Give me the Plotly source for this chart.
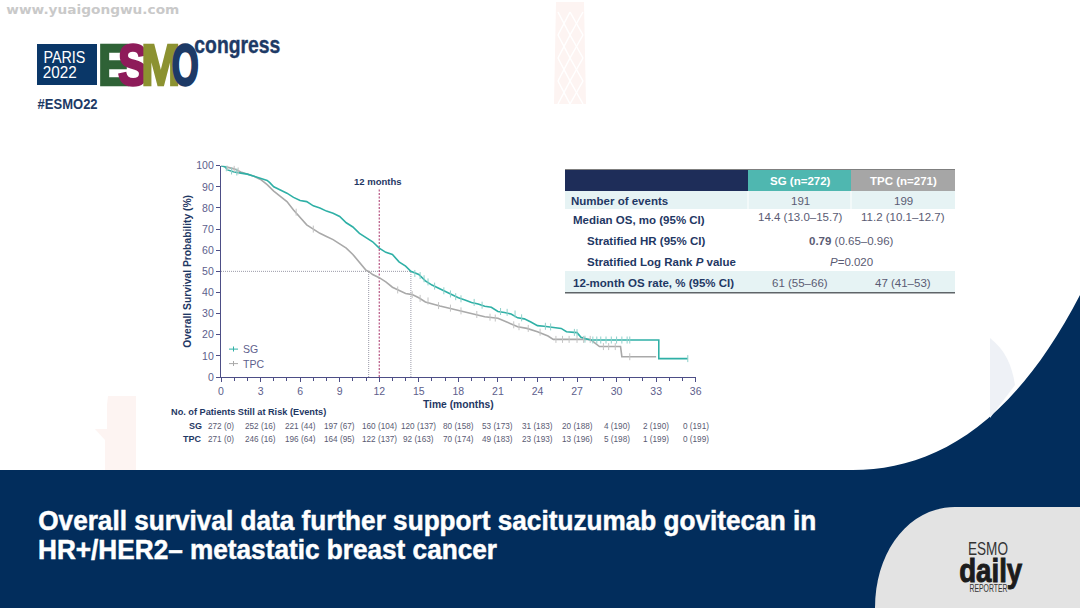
import plotly.graph_objects as go

W, H = 1080, 608

# km curves
sg_t = [0, 0.3, 0.5, 1, 1.5, 2, 2.5, 3, 3.5, 3.7, 4, 4.5, 5, 5.5, 6, 6.5, 7, 7.5, 8, 8.5, 9, 9.5, 10, 10.5, 11, 11.5, 12,
        12.5, 13, 13.5, 14, 14.4, 15, 15.5, 16, 16.5, 17, 17.5, 18, 18.5, 19, 19.5, 20, 20.5, 21, 21.5, 22, 22.5, 23,
        23.5, 24, 24.5, 25, 25.8, 26.2, 27, 27.3, 28, 33.2, 33.2, 35.4]
sg_v = [100, 99.5, 98, 97, 96.5, 96, 95, 94, 93, 92, 90, 88.5, 87, 85, 83.5, 83, 81, 80, 78.5, 77.5, 76, 73, 71, 68, 66, 64, 61,
        59, 58, 54.5, 52.5, 50, 48.5, 45.5, 43.5, 42, 40.5, 39, 37.5, 36.5, 35.3, 34.5, 33.5, 33, 31, 30.5, 29.8, 28, 27.5,
        26, 24.3, 24, 23.5, 23, 21.4, 21, 18.8, 17.5, 17.5, 8.7, 8.7]
tpc_t = [0, 1, 1.5, 2, 2.5, 3, 3.5, 4, 4.5, 5, 5.5, 6, 6.5, 7, 7.5, 8, 8.5, 9, 9.5, 10, 10.5, 11, 11.2, 11.5, 12,
         12.5, 13, 13.5, 14, 14.5, 15, 15.5, 16, 16.6, 17, 18, 19, 20, 21, 21.8, 22.5, 23.2, 24, 24.8, 25.2, 28, 28.7,
         30.3, 30.4, 33]
tpc_v = [100, 98.5, 97, 96, 95, 93.5, 91, 88, 85.5, 83, 79, 75.5, 72, 70, 68, 66.5, 65, 63, 61, 58, 54, 50.5, 50, 48.5, 47,
         45, 42.5, 41, 39.5, 39, 37.5, 35.5, 34.5, 33.6, 33, 31.5, 30, 28.5, 27.8, 25.5, 23.8, 23, 21.4, 19.4, 17.8, 17.8, 14.4,
         14.4, 9.6, 9.6]

# censored patients
sg_cens_t = [0.4, 0.8, 1.2, 14.7, 15.1, 15.4, 15.7, 16.2, 16.9, 17.4, 17.8, 18.2, 19.2, 19.8, 21.2, 21.7, 22.3, 22.8, 24.6, 25, 26.8,
             27, 27.6, 28.2, 28.5, 28.8, 29.2, 29.6, 30, 30.4, 30.8, 31, 35.4]
sg_cens_v = [99, 97.5, 97, 49, 48, 46.5, 45, 43, 40.8, 39.3, 38, 37, 35.3, 34, 31, 30.6, 29.8, 28, 24, 23.7, 21.1,
             21, 17.9, 17.5, 17.5, 17.5, 17.5, 17.5, 17.5, 17.5, 17.5, 17.5, 8.7]
tpc_cens_t = [0.5, 1, 1.3, 5.7, 7, 13.4, 14.5, 15.1, 15.7, 16.5, 17.4, 18.2, 19.4, 20.4, 20.8, 22.2, 22.6, 23.3, 24.2, 25.4, 25.9, 26.4,
              27, 27.5, 28, 29, 29.4, 29.9, 31]
tpc_cens_v = [99.5, 98.5, 97.5, 78, 70, 41.2, 39, 37.2, 36, 33.8, 32.6, 31.3, 29.6, 28.3, 27.9, 24.7, 23.8, 23, 21.2, 17.8, 17.8, 17.8,
              17.8, 17.8, 17.8, 14.4, 14.4, 14.4, 9.6]

median_sg = 14.4
median_tpc = 11.2
landmark = 12

risk_months = [0, 3, 6, 9, 12, 15, 18, 21, 24, 27, 30, 33, 36]
risk_sg = ["272 (0)", "252 (16)", "221 (44)", "197 (67)", "160 (104)", "120 (137)", "80 (158)", "53 (173)", "31 (183)",
           "20 (188)", "4 (190)", "2 (190)", "0 (191)"]
risk_tpc = ["271 (0)", "246 (16)", "196 (64)", "164 (95)", "122 (137)", "92 (163)", "70 (174)", "49 (183)", "23 (193)",
            "13 (196)", "5 (198)", "1 (199)", "0 (199)"]

table_labels = ["Number of events", "Median OS, mo (95% CI)", "Stratified HR (95% CI)", "Stratified Log Rank <i>P</i> value",
                "12-month OS rate, % (95% CI)"]
table_sg = ["191", "14.4 (13.0–15.7)", "", "", "61 (55–66)"]
table_tpc = ["199", "11.2 (10.1–12.7)", "", "", "47 (41–53)"]

NAVY = "#022d5c"
AXIS = "#4d4e86"
INK = "#1f3864"
VAL = "#5a5b73"
TEAL = "#2fb0a6"
GREY = "#a9a9a9"
MAROON = "#a8336a"
SANS = "Liberation Sans"
PINK = "#fdf4f2"


def px(x):
    return x / W


def py(y):
    return 1 - y / H


shapes = []
annotations = []


def rect(x0, y0, x1, y1, color):
    shapes.append(dict(type="rect", xref="paper", yref="paper", x0=px(x0), x1=px(x1), y0=py(y0), y1=py(y1),
                       fillcolor=color, line_width=0, layer="below"))


def blob(cmds, color):
    # cmds like ("M", x, y) or ("C", x1, y1, x2, y2, x, y)
    d = ""
    for c in cmds:
        nums = c[1:]
        pts = [f"{px(nums[i]):.5f},{py(nums[i + 1]):.5f}" for i in range(0, len(nums), 2)]
        d += c[0] + " ".join(pts) + " "
    shapes.append(dict(type="path", xref="paper", yref="paper", path=d + "Z", fillcolor=color, line_width=0, layer="below"))


def stroke(x0, y0, x1, y1, color, width=1.5):
    shapes.append(dict(type="line", xref="paper", yref="paper", x0=px(x0), x1=px(x1), y0=py(y0), y1=py(y1),
                       line=dict(color=color, width=width), layer="below"))


def text(x, y, s, size, color=INK, weight="normal", family=SANS, anchor="center"):
    # annotation boxes carry 2px of padding, take it back on anchored sides
    if anchor == "left":
        x -= 2
    if anchor == "right":
        x += 2
    annotations.append(dict(xref="paper", yref="paper", x=px(x), y=py(y), text=s, showarrow=False, xanchor=anchor,
                            yanchor="middle", font=dict(size=size, color=color, family=family, weight=weight)))


# background
blob([("M", 0, 470), ("L", 853, 470), ("C", 930, 470, 1010, 430, 1080, 295), ("L", 1080, 608), ("L", 0, 608)], NAVY)
blob([("M", 875, 608), ("C", 875, 550, 910, 507, 955, 507), ("L", 1080, 507), ("L", 1080, 608)], "#e3e3e3")

# faint ghost drawings behind the slide
blob([("M", 556, 2), ("L", 584, 2), ("L", 586, 104), ("L", 554, 104)], PINK)
for k in range(4):
    top = 12 + k * 23
    stroke(558, top, 570, top + 23, "white")
    stroke(570, top + 23, 583, top, "white")
    stroke(570, top, 583, top + 23, "white")
    stroke(558, top + 23, 570, top, "white")
blob([("M", 108, 396), ("L", 136, 396), ("L", 136, 470), ("L", 105, 470), ("L", 105, 440), ("L", 95, 429), ("L", 107, 429), ("L", 107, 405)], PINK)
blob([("M", 990, 338), ("C", 1005, 350, 1012, 365, 1015, 385), ("L", 990, 418)], "#eef1f6")

# logo
text(92.5, 10, "www.yuaigongwu.com", 12, "#c9c9c9", "bold", "DejaVu Sans")
rect(37, 44, 97, 85, "#0a3768")
text(64, 57, "PARIS", 16, "white")
text(60, 73, "2022", 16, "white")
text(114, 65, "E", 57, "#2f6236", "bold")
text(133, 65, "S", 57, "#8e1c5a", "bold")
text(160, 65, "M", 57, "#8c9231", "bold")
text(185, 65, "O", 57, "#1d3a66", "bold")
text(237, 44, "congress", 24, "#1d3a66", "bold")
text(67, 103, "#ESMO22", 15, "#1d3a66", "bold")

# table
rect(565, 170, 748, 191, "#1e2d59")
rect(748, 170, 851, 191, "#4fb7b0")
rect(851, 170, 955, 191, "#a6a6a6")
rect(565, 191, 747.5, 209, "#e6f3f4")
rect(748.5, 191, 850.5, 209, "#e6f3f4")
rect(851.5, 191, 955, 209, "#e6f3f4")
rect(565, 271, 955, 292, "#e6f3f4")
rect(565, 169, 955, 170, "#7f7f7f")
rect(565, 292, 955, 293.5, "#5f6468")
text(800, 181, "SG (n=272)", 11.5, "white", "bold")
text(903, 181, "TPC (n=271)", 11.5, "white", "bold")
label_x = [571, 573, 587, 587, 573]
row_y = [200.7, 220, 241.5, 261.7, 283]
value_y = [200.7, 216.5, 241.5, 261.7, 283]
for lab, sg, tpc, lx, ly, vy in zip(table_labels, table_sg, table_tpc, label_x, row_y, value_y):
    text(lx, ly, lab, 11.5, INK, "bold", anchor="left")
    text(800, vy, sg, 11.5, VAL)
    text(903, vy, tpc, 11.5, VAL)
text(851, 241.5, "<b>0.79</b> (0.65–0.96)", 11.5, VAL)
text(851, 261.7, "<i>P</i>=0.020", 11.5, VAL)

# chart furniture
text(378, 181, "12 months", 9.5, INK, "bold")
text(171, 412, "No. of Patients Still at Risk (Events)", 9.2, INK, "bold", anchor="left")
text(202, 426, "SG", 9, INK, "bold", anchor="right")
text(202, 439, "TPC", 9, INK, "bold", anchor="right")
for m, a, b in zip(risk_months, risk_sg, risk_tpc):
    for row, lab in ((426, a), (439, b)):
        annotations.append(dict(xref="x", yref="paper", x=m, y=py(row), text=lab, showarrow=False, xanchor="center",
                                yanchor="middle", font=dict(size=8.2, color=VAL, family=SANS)))

# legend, short keys like the original
rect(229, 348.6, 238, 349.6, TEAL)
rect(229, 363.1, 238, 364.1, GREY)
rect(233, 346.5, 234, 351.5, TEAL)
rect(233, 361, 234, 366, GREY)
text(243, 349, "SG", 10.5, "#5d5e8c", anchor="left")
text(243, 363.5, "TPC", 10.5, "#5d5e8c", anchor="left")

# footer
text(427, 520.5, "Overall survival data further support sacituzumab govitecan in", 28, "white", "bold")
text(267.5, 549.5, "HR+/HER2– metastatic breast cancer", 28, "white", "bold")
text(988, 548, "ESMO", 19, "#333333")
text(991, 570, "daily", 34, "#1c1c1c", "bold")
text(988, 588, "REPORTER", 11, "#333333")

fig = go.Figure()

# guides first so the curves sit on top
fig.add_trace(go.Scatter(x=[0, median_sg], y=[50, 50], mode="lines", hoverinfo="skip", showlegend=False,
                         line=dict(color="#9a9aa8", width=1, dash="1px,1px")))
for m in [median_tpc, median_sg]:
    fig.add_trace(go.Scatter(x=[m, m], y=[0, 50], mode="lines", hoverinfo="skip", showlegend=False,
                             line=dict(color="#9a9aa8", width=1, dash="1px,1px")))
fig.add_trace(go.Scatter(x=[landmark, landmark], y=[0, 89], mode="lines", hoverinfo="skip", showlegend=False,
                         line=dict(color=MAROON, width=1, dash="2px,1.5px")))

fig.add_trace(go.Scatter(x=tpc_t, y=tpc_v, mode="lines", name="TPC", showlegend=False, line=dict(color=GREY, width=1.6)))
fig.add_trace(go.Scatter(x=sg_t, y=sg_v, mode="lines", name="SG", showlegend=False, line=dict(color=TEAL, width=1.6)))
fig.add_trace(go.Scatter(x=tpc_cens_t, y=tpc_cens_v, mode="markers", showlegend=False,
                         marker=dict(symbol="line-ns", size=5, line=dict(color="#c4c4c4", width=1))))
fig.add_trace(go.Scatter(x=sg_cens_t, y=sg_cens_v, mode="markers", showlegend=False,
                         marker=dict(symbol="line-ns", size=5, line=dict(color="#8fd0ca", width=1))))

axis_font = dict(size=10.5, color="#5d5e8c", family=SANS)
fig.update_layout(
    width=W, height=H, margin=dict(l=0, r=0, t=0, b=0, autoexpand=False), paper_bgcolor="white", plot_bgcolor="rgba(0,0,0,0)",
    shapes=shapes, annotations=annotations, showlegend=False,
    xaxis=dict(domain=[px(221), px(695.7)], range=[0, 36], tickmode="array", tickvals=risk_months, ticks="outside", ticklen=4,
               tickcolor=AXIS, tickwidth=1, showline=True, linecolor=AXIS, linewidth=1.3, showgrid=False, zeroline=False,
               tickfont=axis_font, minor=dict(dtick=1, ticks="outside", ticklen=2.5, tickcolor=AXIS, showgrid=False),
               title=dict(text="Time (months)", standoff=5, font=dict(size=10.3, color=INK, family=SANS, weight="bold"))),
    yaxis=dict(domain=[py(377), py(165.7)], range=[0, 100], dtick=10, ticks="outside", ticklen=4,
               tickcolor=AXIS, tickwidth=1, showline=True, linecolor=AXIS, linewidth=1.3, showgrid=False, zeroline=False,
               tickfont=axis_font,
               title=dict(text="Overall Survival Probability (%)", standoff=2,
                          font=dict(size=10.3, color=INK, family=SANS, weight="bold"))),
)

# drop the page margin, squeeze and thicken the wordmarks to their real widths
squeeze = """
document.body.style.margin = '0';
document.body.style.overflow = 'hidden';
var want = {'E':32,'S':30,'M':39,'O':27,'PARIS':42,'2022':34,'congress':86,'#ESMO22':60,'www.yuaigongwu.com':173,
 'Overall survival data further support sacituzumab govitecan in':778,
 'HR+/HER2– metastatic breast cancer':459,'daily':63,'ESMO':40,'REPORTER':38};
var heavy = {'E':2.5,'S':2.5,'M':2.5,'O':2.5,'congress':0.4,'daily':1,
 'Overall survival data further support sacituzumab govitecan in':0.5,
 'HR+/HER2– metastatic breast cancer':0.5};
document.querySelectorAll('.annotation-text').forEach(function(t){
  var w = want[t.textContent], h = heavy[t.textContent];
  if(w){ t.setAttribute('textLength', w); t.setAttribute('lengthAdjust','spacingAndGlyphs'); }
  if(h){ t.style.stroke = t.style.fill; t.style.strokeWidth = h + 'px'; }
});
"""
fig.write_html("out.html", post_script=squeeze, config=dict(displayModeBar=False))
